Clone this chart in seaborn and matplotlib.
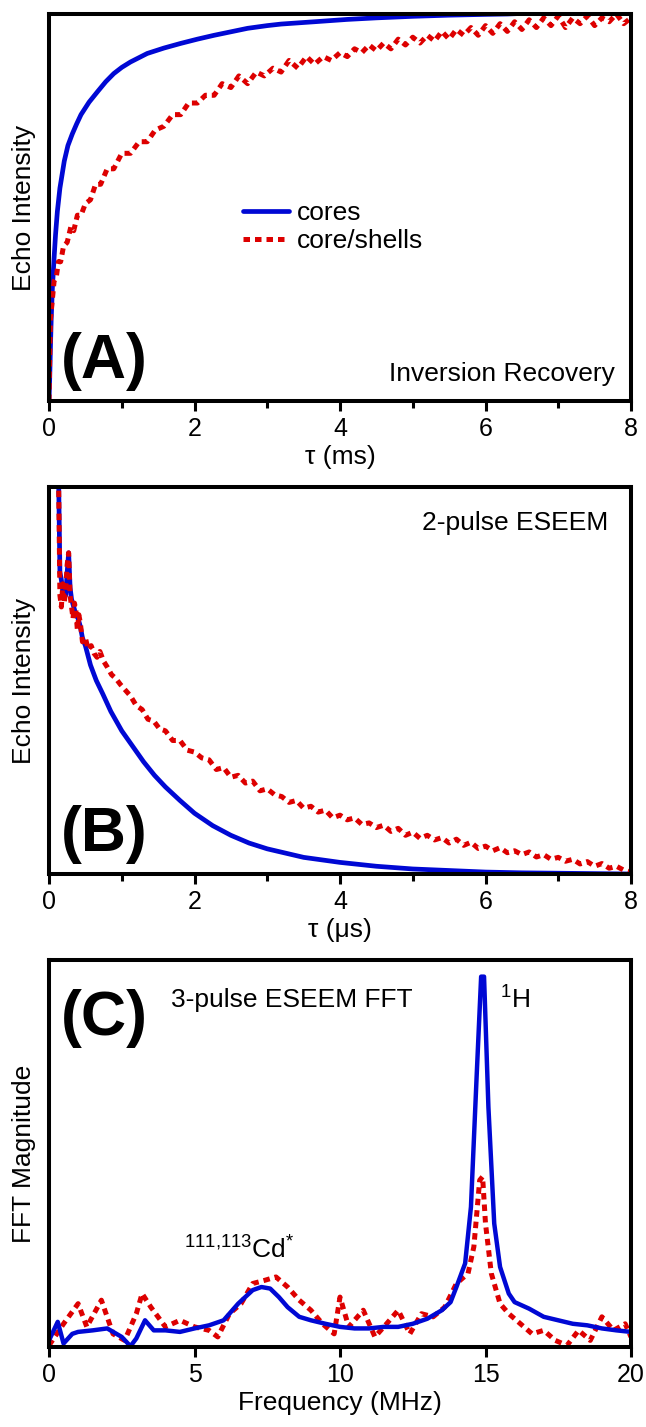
import numpy as np
import pandas as pd
import matplotlib
matplotlib.use("Agg")
import matplotlib.pyplot as plt
import seaborn as sns

# ---------------- data ----------------
# Panel A: inversion recovery, tau in ms
a_core_x = [0, 0.01, 0.02, 0.03, 0.046, 0.07, 0.09, 0.115, 0.15, 0.21,
            0.26, 0.32, 0.38, 0.44, 0.55, 0.67, 0.78, 0.89, 1.0, 1.12,
            1.35, 1.58, 1.81, 2.04, 2.27, 2.5, 2.73, 3.0, 3.19, 3.42,
            3.65, 4.1, 4.5, 5.0, 5.5, 6.0, 6.3, 7.0, 8.0]
a_core_y = [0.0, 0.06, 0.14, 0.21, 0.29, 0.37, 0.43, 0.49, 0.55, 0.62,
            0.66, 0.69, 0.716, 0.74, 0.772, 0.80, 0.825, 0.846, 0.862, 0.876,
            0.898, 0.912, 0.924, 0.935, 0.945, 0.954, 0.963, 0.97, 0.974, 0.977,
            0.98, 0.986, 0.99, 0.994, 0.997, 0.999, 1.0, 1.005, 1.01]
a_shell_x = [0.00, 0.01, 0.02, 0.04, 0.07, 0.10, 0.13, 0.16, 0.20, 0.25,
             0.30, 0.34, 0.39, 0.44, 0.50, 0.57, 0.64, 0.71, 0.80, 0.89,
             1.00, 1.12, 1.24, 1.35, 1.46, 1.58, 1.70, 1.81, 1.92, 2.04,
             2.15, 2.27, 2.38, 2.50, 2.61, 2.73, 2.85, 2.96, 3.08, 3.19,
             3.30, 3.42, 3.54, 3.65, 3.77, 3.88, 4.00, 4.10, 4.20, 4.30,
             4.40, 4.50, 4.60, 4.70, 4.80, 4.90, 5.00, 5.10, 5.20, 5.30,
             5.40, 5.50, 5.60, 5.70, 5.80, 5.90, 6.00, 6.10, 6.20, 6.30,
             6.40, 6.50, 6.60, 6.70, 6.80, 6.90, 7.00, 7.10, 7.20, 7.30,
             7.40, 7.50, 7.60, 7.70, 7.80, 7.90, 8.00]
a_shell_y = [0.00, 0.12, 0.21, 0.25, 0.31, 0.32, 0.36, 0.36, 0.40, 0.41,
             0.45, 0.44, 0.48, 0.48, 0.51, 0.52, 0.56, 0.56, 0.60, 0.60,
             0.64, 0.64, 0.67, 0.67, 0.70, 0.71, 0.74, 0.74, 0.77, 0.77,
             0.79, 0.79, 0.82, 0.81, 0.84, 0.82, 0.85, 0.84, 0.86, 0.85,
             0.88, 0.86, 0.89, 0.87, 0.89, 0.88, 0.90, 0.89, 0.91, 0.90,
             0.92, 0.905, 0.925, 0.91, 0.935, 0.92, 0.94, 0.925, 0.945, 0.93,
             0.955, 0.935, 0.96, 0.945, 0.965, 0.945, 0.97, 0.95, 0.975, 0.955,
             0.98, 0.96, 0.985, 0.965, 0.99, 0.97, 0.995, 0.965, 0.99, 0.975,
             0.995, 0.97, 0.99, 0.98, 1.00, 0.975, 0.99]

# Panel B: 2-pulse ESEEM, tau in us
b_core_x = [0.13, 0.15, 0.17, 0.19, 0.21, 0.23, 0.25, 0.27, 0.29, 0.31, 0.34, 0.37, 0.40, 0.43,
            0.46, 0.50, 0.57, 0.65, 0.74, 0.85, 1.0, 1.15, 1.3, 1.45, 1.6, 1.8, 2.0, 2.25, 2.5,
            2.75, 3.0, 3.5, 4.0, 4.5, 5.0, 5.5, 6.0, 6.5, 7.0, 7.5, 8.0]
b_core_y = [1.05, 0.78, 0.76, 0.73, 0.74, 0.72, 0.78, 0.83, 0.74, 0.71, 0.69, 0.67, 0.66, 0.64,
            0.61, 0.59, 0.54, 0.50, 0.465, 0.42, 0.37, 0.33, 0.29, 0.255, 0.225, 0.19, 0.157,
            0.125, 0.10, 0.08, 0.065, 0.043, 0.03, 0.02, 0.013, 0.009, 0.005, 0.003, 0.002,
            0.001, 0.0]
b_shell_x = [0.13, 0.15, 0.17, 0.19, 0.21, 0.23, 0.25, 0.27, 0.29, 0.31, 0.33, 0.35, 0.37, 0.39,
             0.41, 0.43, 0.46, 0.50, 0.54, 0.58, 0.62, 0.66, 0.70, 0.75, 0.80, 0.86, 0.92, 0.98,
             1.05, 1.12, 1.20, 1.28, 1.36, 1.44, 1.52, 1.60, 1.70, 1.80, 1.90, 2.00, 2.10, 2.20,
             2.30, 2.40, 2.50, 2.60, 2.70, 2.80, 2.90, 3.00, 3.10, 3.20, 3.30, 3.40, 3.50, 3.60,
             3.70, 3.80, 3.90, 4.00, 4.10, 4.20, 4.30, 4.40, 4.50, 4.60, 4.70, 4.80, 4.90, 5.00,
             5.10, 5.20, 5.30, 5.40, 5.50, 5.60, 5.70, 5.80, 5.90, 6.00, 6.10, 6.20, 6.30, 6.40,
             6.50, 6.60, 6.70, 6.80, 6.90, 7.00, 7.10, 7.20, 7.30, 7.40, 7.50, 7.60, 7.70, 7.80,
             7.90, 8.00]
b_shell_y = [1.05, 0.72, 0.69, 0.75, 0.70, 0.74, 0.80, 0.83, 0.72, 0.69, 0.66, 0.70, 0.68, 0.63,
             0.67, 0.65, 0.60, 0.61, 0.58, 0.59, 0.57, 0.56, 0.575, 0.55, 0.535, 0.515, 0.505, 0.49,
             0.475, 0.46, 0.435, 0.425, 0.40, 0.395, 0.375, 0.37, 0.345, 0.345, 0.32, 0.315, 0.30, 0.295,
             0.27, 0.275, 0.25, 0.255, 0.235, 0.24, 0.215, 0.22, 0.205, 0.20, 0.185, 0.19, 0.17, 0.175,
             0.16, 0.165, 0.145, 0.152, 0.14, 0.145, 0.128, 0.132, 0.12, 0.126, 0.11, 0.118, 0.10, 0.108,
             0.092, 0.10, 0.088, 0.094, 0.08, 0.09, 0.074, 0.082, 0.066, 0.072, 0.06, 0.068, 0.055, 0.06,
             0.05, 0.057, 0.044, 0.05, 0.038, 0.043, 0.033, 0.038, 0.026, 0.032, 0.02, 0.027, 0.015, 0.02,
             0.01, 0.005]

# Panel C: 3-pulse ESEEM FFT, frequency in MHz
c_core_x = [0.0, 0.3, 0.5, 0.8, 1.0, 1.5, 2.0, 2.5, 2.8, 3.0, 3.3, 3.6, 4.0, 4.5, 5.0, 5.5, 6.0,
            6.5, 7.0, 7.3, 7.6, 7.9, 8.2, 8.6, 9.0, 9.5, 10.0, 10.5, 11.0, 11.5, 12.0, 12.5, 13.0,
            13.5, 13.8, 14.0, 14.3, 14.5, 14.7, 14.85, 14.95, 15.1, 15.3, 15.5, 15.8, 16.0, 16.5,
            17.0, 17.5, 18.0, 18.5, 19.0, 19.5, 20.0]
c_core_y = [0.017, 0.065, 0.009, 0.034, 0.039, 0.043, 0.048, 0.026, 0.002, 0.022, 0.069, 0.043,
            0.043, 0.039, 0.048, 0.056, 0.069, 0.112, 0.147, 0.155, 0.151, 0.129, 0.103, 0.078,
            0.069, 0.06, 0.052, 0.048, 0.048, 0.052, 0.052, 0.06, 0.073, 0.095, 0.116, 0.155,
            0.216, 0.362, 0.707, 0.957, 0.957, 0.62, 0.319, 0.207, 0.138, 0.116, 0.099, 0.078,
            0.069, 0.06, 0.056, 0.048, 0.043, 0.039]
c_shell_x = [0.0, 0.5, 1.0, 1.3, 1.8, 2.2, 2.6, 3.0, 3.2, 3.5, 4.0, 4.5, 5.0, 5.5, 5.8, 6.2, 6.6,
             7.0, 7.4, 7.8, 8.2, 8.6, 9.0, 9.4, 9.8, 10.0, 10.3, 10.8, 11.2, 11.6, 12.0, 12.4,
             12.8, 13.2, 13.6, 14.0, 14.4, 14.6, 14.8, 14.9, 15.0, 15.2, 15.5, 15.8, 16.2, 16.6,
             17.0, 17.4, 17.8, 18.2, 18.6, 19.0, 19.4, 19.8, 20.0]
c_shell_y = [0.004, 0.06, 0.112, 0.052, 0.121, 0.034, 0.017, 0.086, 0.138, 0.103, 0.052, 0.069,
             0.052, 0.043, 0.026, 0.086, 0.112, 0.164, 0.172, 0.181, 0.155, 0.121, 0.095, 0.06,
             0.034, 0.129, 0.052, 0.095, 0.026, 0.06, 0.095, 0.034, 0.086, 0.078, 0.103, 0.164,
             0.19, 0.259, 0.431, 0.44, 0.319, 0.19, 0.112, 0.086, 0.06, 0.034, 0.043, 0.017,
             0.004, 0.043, 0.017, 0.078, 0.043, 0.06, 0.026]

series_labels = ["cores", "core/shells"]
panel_letters = ["(A)", "(B)", "(C)"]
panel_titles = ["Inversion Recovery", "2-pulse ESEEM", "3-pulse ESEEM FFT"]
x_labels = ["\u03c4 (ms)", "\u03c4 (\u03bcs)", "Frequency (MHz)"]
y_labels = ["Echo Intensity", "Echo Intensity", "FFT Magnitude"]
x_ticks = [[0, 2, 4, 6, 8], [0, 2, 4, 6, 8], [0, 5, 10, 15, 20]]
x_minor = [[1, 3, 5, 7], [1, 3, 5, 7], []]
x_limits = [(0, 8), (0, 8), (0, 20)]

# ---------------- style ----------------
sns.set_style("white")
plt.rcParams["font.family"] = ["Liberation Sans", "DejaVu Sans"]
plt.rcParams["mathtext.default"] = "regular"
plt.rcParams["text.color"] = "black"
plt.rcParams["axes.labelcolor"] = "black"
plt.rcParams["xtick.color"] = "black"
plt.rcParams["xtick.labelcolor"] = "black"

BLUE = "#0008d4"
RED = "#dd0000"
DOT = (0, (1.3, 1.0))

W, H = 646, 1427
fig = plt.figure(figsize=(W / 100, H / 100), dpi=100)
fig.patch.set_facecolor("white")

left_px, right_px = 49, 631
tops = [14, 487, 960]
ax_h = 387

data = [
    (a_core_x, a_core_y, a_shell_x, a_shell_y),
    (b_core_x, b_core_y, b_shell_x, b_shell_y),
    (c_core_x, c_core_y, c_shell_x, c_shell_y),
]

axes = []
for i, top in enumerate(tops):
    ax = fig.add_axes([left_px / W, 1 - (top + ax_h) / H, (right_px - left_px) / W, ax_h / H])
    cx, cy, sx, sy = data[i]
    dfc = pd.DataFrame({"x": cx, "y": cy})
    dfs = pd.DataFrame({"x": sx, "y": sy})
    lab_c = series_labels[0] if i == 0 else None
    lab_s = series_labels[1] if i == 0 else None
    if i == 2:
        sns.lineplot(data=dfs, x="x", y="y", ax=ax, color=RED, linewidth=3.6,
                     linestyle=DOT, estimator=None, sort=False)
        sns.lineplot(data=dfc, x="x", y="y", ax=ax, color=BLUE, linewidth=3.2,
                     estimator=None, sort=False)
    else:
        sns.lineplot(data=dfc, x="x", y="y", ax=ax, color=BLUE, linewidth=3.4,
                     estimator=None, sort=False, label=lab_c)
        sns.lineplot(data=dfs, x="x", y="y", ax=ax, color=RED, linewidth=3.6,
                     linestyle=DOT, estimator=None, sort=False, label=lab_s)
    ax.set_xlim(*x_limits[i])
    ax.set_ylim(0, 1)
    ax.set_yticks([])
    ax.set_xticks(x_ticks[i])
    ax.set_xticks(x_minor[i], minor=True)
    ax.tick_params(axis="x", which="major", direction="out", length=7.5, width=2.2,
                   labelsize=18, pad=4, bottom=True, colors="black")
    ax.tick_params(axis="x", which="minor", direction="out", length=5, width=2.2,
                   bottom=True)
    for sp in ax.spines.values():
        sp.set_visible(True)
        sp.set_linewidth(2.9)
        sp.set_color("black")
    ax.set_xlabel(x_labels[i], fontsize=19, labelpad=3, color="black")
    ax.set_ylabel(y_labels[i], fontsize=19, labelpad=9, color="black")
    ax.text(0.021, 0.06 if i < 2 else 0.806, panel_letters[i], transform=ax.transAxes,
            fontsize=45, fontweight="bold", ha="left", va="baseline", color="black")
    axes.append(ax)

axA, axB, axC = axes
for ax in (axB, axC):
    if ax.get_legend():
        ax.get_legend().remove()

axA.text(0.972, 0.052, panel_titles[0], transform=axA.transAxes, fontsize=19,
         ha="right", va="baseline")
axB.text(0.961, 0.889, panel_titles[1], transform=axB.transAxes, fontsize=19,
         ha="right", va="baseline")
axC.text(0.21, 0.879, panel_titles[2], transform=axC.transAxes, fontsize=19,
         ha="left", va="baseline")

axC.text(15.5, 0.875, "$^{1}$H", fontsize=19, ha="left", va="baseline")
axC.text(4.63, 0.228, "$^{111{,}113}$Cd$^{*}$", fontsize=19, ha="left", va="baseline")

leg = axA.legend(loc="upper left", bbox_to_anchor=(0.333, 0.517), frameon=False,
                 fontsize=19, handlelength=1.75, handletextpad=0.3, labelspacing=0.15,
                 borderpad=0, borderaxespad=0)
for t in leg.get_texts():
    t.set_color("black")

fig.savefig("out.png", dpi=100, facecolor="white")
